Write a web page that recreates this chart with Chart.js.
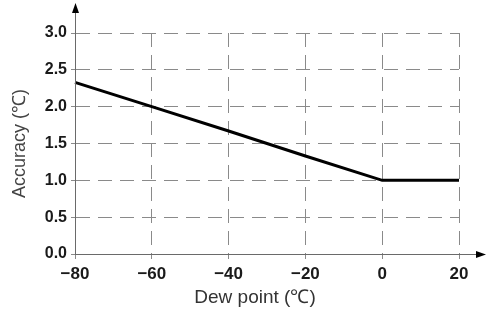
<!DOCTYPE html>
<html>
<head>
<meta charset="utf-8">
<script src="https://cdn.jsdelivr.net/npm/chart.js@4"></script>
<style>
  html, body { margin: 0; padding: 0; background: #fff; }
  #wrap { width: 486px; height: 310px; }
</style>
</head>
<body>
<div id="wrap"><canvas id="accChart" width="486" height="310"></canvas></div>
<script>
// dew point (℃) vs accuracy (℃)
const dewPoints = [-80, -60, -40, -20, 0, 20];
const accuracy = [2.33, 2.0, 1.67, 1.33, 1.0, 1.0];
const xTicks = [-80, -60, -40, -20, 0, 20];
const yTicks = [0, 0.5, 1.0, 1.5, 2.0, 2.5, 3.0];

const gridColor = "#8a8a8a";
const axisColor = "#6a6a6a";
const fontFam = "Liberation Sans, Arial, sans-serif";

// axis lines running past the plot with arrow heads, plus the x title
const arrowAxes = {
    id: "arrowAxes",
    afterDraw(chart) {
        const ctx = chart.ctx;
        const a = chart.chartArea;
        ctx.save();
        ctx.strokeStyle = axisColor;
        ctx.fillStyle = "#000";
        ctx.lineWidth = 1;
        ctx.beginPath();
        ctx.moveTo(a.left + 0.5, a.bottom);
        ctx.lineTo(a.left + 0.5, 10);
        ctx.moveTo(a.left, a.bottom + 0.5);
        ctx.lineTo(480, a.bottom + 0.5);
        ctx.stroke();
        // top arrow
        ctx.beginPath();
        ctx.moveTo(a.left + 0.5, 3);
        ctx.lineTo(a.left - 3, 13);
        ctx.lineTo(a.left + 4, 13);
        ctx.closePath();
        ctx.fill();
        // right arrow
        ctx.beginPath();
        ctx.moveTo(486, a.bottom + 0.5);
        ctx.lineTo(476, a.bottom - 3);
        ctx.lineTo(476, a.bottom + 4);
        ctx.closePath();
        ctx.fill();

        // x axis title, sits a little left of centre in the original
        ctx.fillStyle = "#333";
        ctx.font = "19px " + fontFam;
        ctx.textAlign = "center";
        ctx.textBaseline = "middle";
        ctx.fillText("Dew point (\u2103)", 255, 298);
        ctx.restore();
    }
};

const pts = dewPoints.map((x, i) => ({ x: x, y: accuracy[i] }));

new Chart(document.getElementById("accChart").getContext("2d"), {
    type: "line",
    data: {
        datasets: [{
            data: pts,
            borderColor: "#000",
            borderWidth: 3,
            pointRadius: 0,
            tension: 0,
            clip: false
        }]
    },
    options: {
        responsive: false,
        animation: false,
        layout: { padding: { top: 33, right: 27, left: 0, bottom: 0 } },
        plugins: { legend: { display: false }, tooltip: { enabled: false } },
        scales: {
            x: {
                type: "linear",
                min: -80,
                max: 20,
                afterBuildTicks: (axis) => { axis.ticks = xTicks.map(v => ({ value: v })); },
                afterFit: (axis) => { axis.height = 56; },
                ticks: {
                    color: "#1a1a1a",
                    padding: 5,
                    font: { family: fontFam, size: 17, weight: "bold" },
                    callback: (v) => (v < 0 ? "\u2212" + Math.abs(v) : "" + v)
                },
                grid: {
                    color: gridColor,
                    lineWidth: 1,
                    tickLength: 5,
                    tickBorderDash: []
                },
                border: { display: true, color: axisColor, dash: [14, 8] }
            },
            y: {
                min: 0,
                max: 3,
                afterBuildTicks: (axis) => { axis.ticks = yTicks.map(v => ({ value: v })); },
                afterFit: (axis) => { axis.width = 75; },
                ticks: {
                    color: "#1a1a1a",
                    padding: 4,
                    font: { family: fontFam, size: 16, weight: "bold" },
                    callback: (v) => Number(v).toFixed(1)
                },
                grid: {
                    color: gridColor,
                    lineWidth: 1,
                    tickLength: 4,
                    tickBorderDash: []
                },
                border: { display: true, color: axisColor, dash: [14, 8] },
                title: {
                    display: true,
                    text: "Accuracy (\u2103)",
                    color: "#444",
                    padding: { top: 9, bottom: 0 },
                    font: { family: fontFam, size: 18 }
                }
            }
        }
    },
    plugins: [arrowAxes]
});
</script>
</body>
</html>
